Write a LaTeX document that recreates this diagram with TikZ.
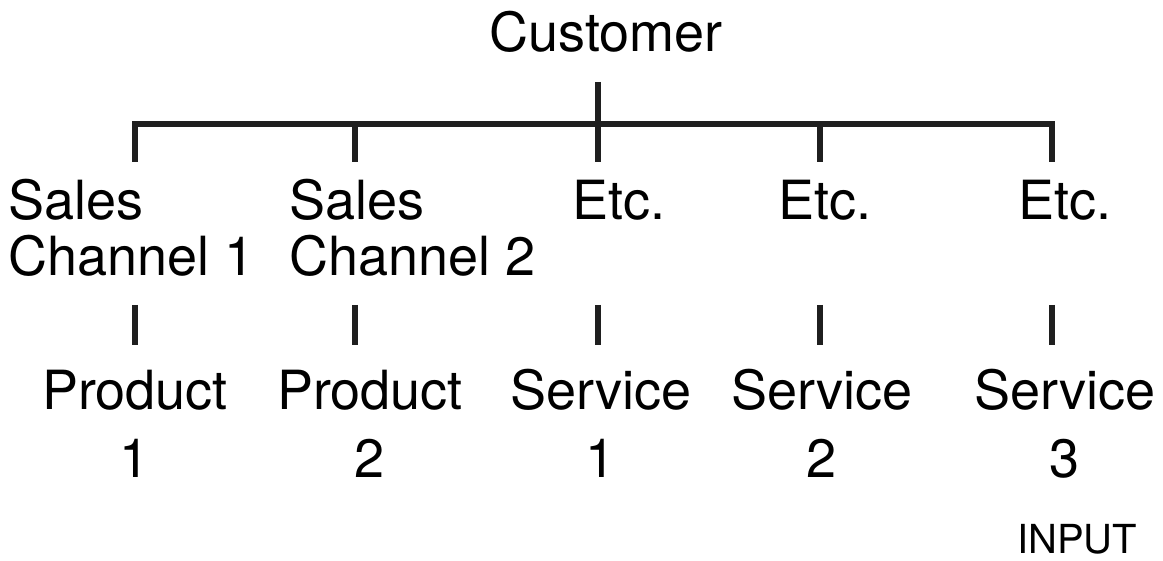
\documentclass[tikz,border=0pt]{standalone}
\usepackage{fontspec}
\setmainfont{TeX Gyre Heros}
\usepackage{tikz}

\tikzset{
    lbl/.style={inner sep=0pt, font=\fontsize{54}{56}\selectfont},
    lbltwo/.style={inner sep=0pt, align=center, font=\fontsize{54}{68}\selectfont},
    small/.style={inner sep=0pt, font=\fontsize{40}{42}\selectfont},
    branch/.style={line width=5.5pt, color=black!88}
}

\begin{document}
\begin{tikzpicture}[x=1pt, y=-1pt]
    \useasboundingbox (0,0) rectangle (1163,561);

    % top
    \node[lbl, anchor=base] (cust) at (606,52) {Customer};
    \coordinate (stem) at (598,82);

    % branch points
    \foreach \x [count=\i] in {135,355,598,820,1052} {
        \coordinate (j\i) at (\x,124);
        \coordinate (d\i) at (\x,162);
        \coordinate (u\i) at (\x,305);
        \coordinate (l\i) at (\x,345);
    }

    % second row (base = last line)
    \node[lbl, anchor=base west, align=left] (ch1) at (8,276) {Sales\\Channel 1};
    \node[lbl, anchor=base west, align=left] (ch2) at (289,276) {Sales\\Channel 2};
    \node[lbl, anchor=base] (etc1) at (619,220) {Etc.};
    \node[lbl, anchor=base] (etc2) at (825,220) {Etc.};
    \node[lbl, anchor=base] (etc3) at (1065,220) {Etc.};

    % third row
    \node[lbltwo, anchor=base] (prod1) at (135,477) {Product\\1};
    \node[lbltwo, anchor=base] (prod2) at (370,477) {Product\\2};
    \node[lbltwo, anchor=base] (serv1) at (601,477) {Service\\1};
    \node[lbltwo, anchor=base] (serv2) at (822,477) {Service\\2};
    \node[lbltwo, anchor=base] (serv3) at (1065,477) {Service\\3};

    \node[small, anchor=base] (input) at (1077,553) {INPUT};

    % connectors
    \draw[branch] (stem) -- (d3);
    \draw[branch] (d1) -- (j1) -- (j5) -- (d5);
    \foreach \i in {2,4} {
        \draw[branch] (j\i) -- (d\i);
    }
    \foreach \i in {1,...,5} {
        \draw[branch] (u\i) -- (l\i);
    }
\end{tikzpicture}
\end{document}
